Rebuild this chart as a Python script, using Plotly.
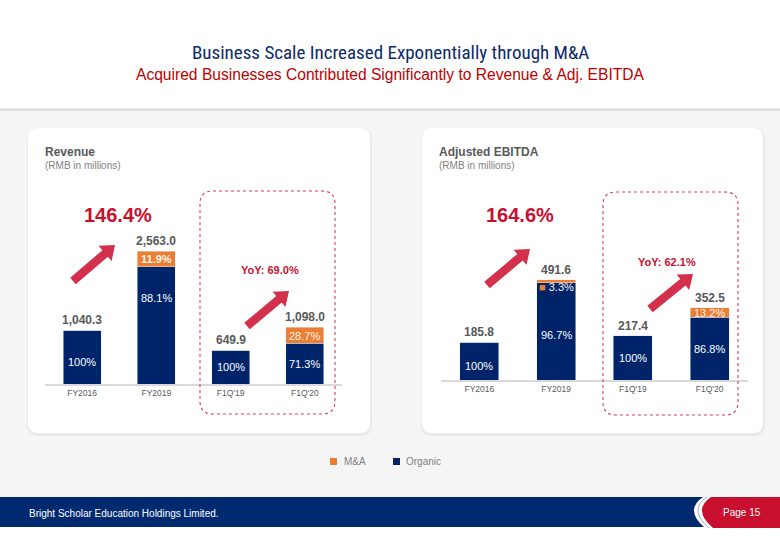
import plotly.graph_objects as go
import math

W, H = 780, 540

# ---------------- data ----------------
categories = ["FY2016", "FY2019", "F1Q'19", "F1Q'20"]
revenue_total = [1040.3, 2563.0, 649.9, 1098.0]
revenue_ma_pct = [0.0, 11.9, 0.0, 28.7]
revenue_org_pct = [100.0, 88.1, 100.0, 71.3]
ebitda_total = [185.8, 491.6, 217.4, 352.5]
ebitda_ma_pct = [0.0, 3.3, 0.0, 13.2]
ebitda_org_pct = [100.0, 96.7, 100.0, 86.8]
revenue_growth = "146.4%"
revenue_yoy = "YoY: 69.0%"
ebitda_growth = "164.6%"
ebitda_yoy = "YoY: 62.1%"

NAVY = "#002469"
ORANGE = "#ED7D31"
RED = "#C8102E"
ARROW = "#D3304B"
GRAY = "#595959"
FONT = "Liberation Sans, Arial, sans-serif"


def P(x, y):
    return x / W, 1 - y / H


def fmt(x, y):
    a, b = P(x, y)
    return f"{a:.5f},{b:.5f}"


def rrect(x0, y0, x1, y1, r):
    return (f"M {fmt(x0+r,y0)} L {fmt(x1-r,y0)} Q {fmt(x1,y0)} {fmt(x1,y0+r)} "
            f"L {fmt(x1,y1-r)} Q {fmt(x1,y1)} {fmt(x1-r,y1)} L {fmt(x0+r,y1)} "
            f"Q {fmt(x0,y1)} {fmt(x0,y1-r)} L {fmt(x0,y0+r)} Q {fmt(x0,y0)} {fmt(x0+r,y0)} Z")


def arrow_path(tx, ty, hx, hy, w=8.5, hw=20, hl=13):
    L = math.hypot(hx - tx, hy - ty)
    dx, dy = (hx - tx) / L, (hy - ty) / L
    nx, ny = -dy, dx
    bx, by = hx - dx * hl, hy - dy * hl
    pts = [
        (tx + nx * w / 2, ty + ny * w / 2),
        (bx + nx * w / 2, by + ny * w / 2),
        (bx + nx * hw / 2, by + ny * hw / 2),
        (hx, hy),
        (bx - nx * hw / 2, by - ny * hw / 2),
        (bx - nx * w / 2, by - ny * w / 2),
        (tx - nx * w / 2, ty - ny * w / 2),
    ]
    return "M " + " L ".join(fmt(x, y) for x, y in pts) + " Z"


fig = go.Figure()

panels = [
    ("x", "y", revenue_total, revenue_org_pct, revenue_ma_pct),
    ("x2", "y2", ebitda_total, ebitda_org_pct, ebitda_ma_pct),
]
for xa, ya, tot, org, ma in panels:
    org_v = [t * p / 100 for t, p in zip(tot, org)]
    ma_v = [t * p / 100 for t, p in zip(tot, ma)]
    fig.add_trace(go.Bar(x=categories, y=org_v, name="Organic", marker_color=NAVY,
                         width=0.51, xaxis=xa, yaxis=ya, hoverinfo="skip"))
    fig.add_trace(go.Bar(x=categories, y=ma_v, name="M&A", marker_color=ORANGE,
                         width=0.51, xaxis=xa, yaxis=ya, hoverinfo="skip"))

shapes = []
annotations = []

# background regions
shapes.append(dict(type="rect", xref="paper", yref="paper", x0=0, x1=1,
                   y0=P(0, 497)[1], y1=P(0, 110)[1], fillcolor="#F5F5F5",
                   line_width=0, layer="below"))
shapes.append(dict(type="line", xref="paper", yref="paper", x0=0, x1=1,
                   y0=P(0, 109.5)[1], y1=P(0, 109.5)[1],
                   line=dict(color="#D9D9D9", width=2), layer="below"))
# cards (with soft shadow)
for (x0, y0, x1, y1) in [(28, 128, 370, 433), (422, 128, 763, 433)]:
    shapes.append(dict(type="path", xref="paper", yref="paper",
                       path=rrect(x0 - 1, y0, x1 + 2, y1 + 3, 11),
                       fillcolor="#EAEAEA", line_width=0, layer="below"))
    shapes.append(dict(type="path", xref="paper", yref="paper",
                       path=rrect(x0, y0, x1, y1, 10),
                       fillcolor="white", line_width=0, layer="below"))
# dotted highlight boxes
for (x0, y0, x1, y1) in [(200, 191, 335, 414), (603, 192, 738, 415)]:
    shapes.append(dict(type="path", xref="paper", yref="paper",
                       path=rrect(x0, y0, x1, y1, 13),
                       line=dict(color="#DC3C58", width=1.1, dash="dot"),
                       fillcolor="rgba(0,0,0,0)"))
# arrows
for a in [(73, 281, 115, 245), (247, 326, 289, 291), (487, 285, 530, 249), (650, 309, 693, 274)]:
    shapes.append(dict(type="path", xref="paper", yref="paper", path=arrow_path(*a),
                       fillcolor=ARROW, line_width=0))

# footer
shapes.append(dict(type="rect", xref="paper", yref="paper", x0=0, x1=1,
                   y0=P(0, 527)[1], y1=P(0, 497)[1], fillcolor="#002A70", line_width=0))
shapes.append(dict(type="path", xref="paper", yref="paper",
                   path=f"M {fmt(703,497)} Q {fmt(684,510)} {fmt(705,528)} L {fmt(780,528)} L {fmt(780,497)} Z",
                   fillcolor="white", line_width=0))
shapes.append(dict(type="path", xref="paper", yref="paper",
                   path=f"M {fmt(711,497)} Q {fmt(692,510)} {fmt(713,528)} L {fmt(780,528)} L {fmt(780,497)} Z",
                   fillcolor="#C8102E", line_width=0))
shapes.append(dict(type="path", xref="paper", yref="paper",
                   path=f"M {fmt(707,497)} Q {fmt(688,510)} {fmt(709,528)}",
                   line=dict(color="#9FB0D0", width=1)))

# legend
shapes.append(dict(type="rect", xref="paper", yref="paper",
                   x0=P(330, 0)[0], x1=P(337, 0)[0], y0=P(0, 465)[1], y1=P(0, 458)[1],
                   fillcolor=ORANGE, line_width=0))
shapes.append(dict(type="rect", xref="paper", yref="paper",
                   x0=P(393, 0)[0], x1=P(400, 0)[0], y0=P(0, 465)[1], y1=P(0, 458)[1],
                   fillcolor=NAVY, line_width=0))


def A(x, y, text, size=10, color=GRAY, xanchor="center", bold=False, family=FONT):
    px, py = P(x, y)
    if bold:
        text = f"<b>{text}</b>"
    annotations.append(dict(x=px, y=py, xref="paper", yref="paper", text=text,
                            showarrow=False, xanchor=xanchor, yanchor="middle",
                            font=dict(size=size, color=color, family=family)))


A(342, 461.5, "M&A", 10, "#7F7F7F", "left")
A(404, 461.5, "Organic", 10, "#7F7F7F", "left")

# titles
A(390, 52, "Business Scale Increased Exponentially through M&A", 19, "#0D2A6B",
  family="Noto Sans ExtraCondensed, Noto Sans Condensed, Roboto Condensed, Open Sans Condensed, "
         "Liberation Sans Narrow, DejaVu Sans Condensed, sans-serif")
A(390, 74, "Acquired Businesses Contributed Significantly to Revenue &amp; Adj. EBITDA", 15.6, "#C00000")
A(27, 513, "Bright Scholar Education Holdings Limited.", 10, "white", "left")
A(742, 512, "Page 15", 10, "white")

# card titles
A(43, 152, "Revenue", 12, GRAY, "left", bold=True)
A(43, 166, "(RMB in millions)", 10, "#7F7F7F", "left")
A(437, 152, "Adjusted EBITDA", 12, GRAY, "left", bold=True)
A(437, 166, "(RMB in millions)", 10, "#7F7F7F", "left")

# growth labels
A(118, 215, revenue_growth, 20, RED, bold=True)
A(270, 270, revenue_yoy, 11, RED, bold=True)
A(520, 215, ebitda_growth, 20, RED, bold=True)
A(667, 262, ebitda_yoy, 11, RED, bold=True)


def data_labels(xa, ya, tot, org, ma, org_shift, ma_shift, ma_bold, ma_prefix):
    for i, c in enumerate(categories):
        annotations.append(dict(x=c, y=tot[i], xref=xa, yref=ya, text=f"<b>{tot[i]:,.1f}</b>",
                                showarrow=False, yanchor="bottom", yshift=1,
                                font=dict(size=12, color=GRAY, family=FONT)))
        ov = tot[i] * org[i] / 100
        lbl = f"{org[i]:.0f}%" if org[i] == 100 else f"{org[i]:.1f}%"
        annotations.append(dict(x=c, y=ov / 2, xref=xa, yref=ya, text=lbl, showarrow=False,
                                yanchor="middle", yshift=org_shift[i],
                                font=dict(size=11, color="white", family=FONT)))
        if ma[i] > 0:
            mv = tot[i] * ma[i] / 100
            t = f"{ma[i]:.1f}%"
            if ma_bold[i]:
                t = f"<b>{t}</b>"
            t = ma_prefix[i] + t
            annotations.append(dict(x=c, y=ov + mv / 2, xref=xa, yref=ya, text=t, showarrow=False,
                                    yanchor="middle", yshift=ma_shift[i],
                                    font=dict(size=11, color="#FFF6EE", family=FONT)))


data_labels("x", "y", revenue_total, revenue_org_pct, revenue_ma_pct,
            [-5, 27, 0, 0], [0, 0, 0, -1], [False, True, False, False], ["", "", "", ""])
data_labels("x2", "y2", ebitda_total, ebitda_org_pct, ebitda_ma_pct,
            [-5, -4, 0, 0], [0, -6, 0, 0], [False, False, False, False],
            ["", f'<span style="color:{ORANGE}">■</span> ', "", ""])

axis_common = dict(type="category", range=[-0.5, 3.5], showline=True, linecolor="#D9D9D9",
                   linewidth=1.5, ticks="", showgrid=False, zeroline=False,
                   tickfont=dict(size=8.5, color=GRAY, family=FONT))
yaxis_common = dict(visible=False, showgrid=False, zeroline=False)

fig.update_layout(
    width=W, height=H, margin=dict(l=0, r=0, t=0, b=0),
    paper_bgcolor="white", plot_bgcolor="rgba(0,0,0,0)",
    barmode="stack", showlegend=False,
    xaxis=dict(domain=[45 / W, 342 / W], anchor="y", **axis_common),
    yaxis=dict(domain=[1 - 384 / H, 1 - 220 / H], range=[0, 164 / 0.05189], anchor="x", **yaxis_common),
    xaxis2=dict(domain=[441 / W, 748 / W], anchor="y2", **axis_common),
    yaxis2=dict(domain=[1 - 380 / H, 1 - 220 / H], range=[0, 160 / 0.2044], anchor="x2", **yaxis_common),
    shapes=shapes, annotations=annotations,
)

fig.write_html("out.html", config={"displayModeBar": False},
               post_script="document.body.style.margin='0';document.body.style.overflow='hidden';")
